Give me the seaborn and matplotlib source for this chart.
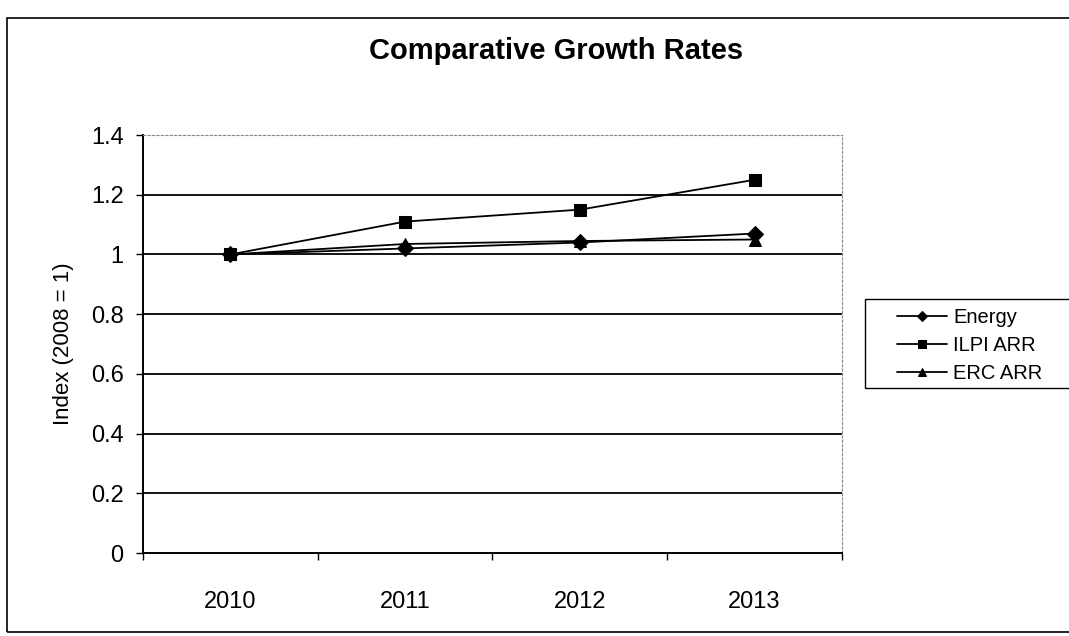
import matplotlib
matplotlib.use("Agg")
import matplotlib.pyplot as plt
import seaborn as sns
import pandas as pd
from matplotlib.patches import Rectangle

years = ["2010", "2011", "2012", "2013"]
energy = [1.00, 1.02, 1.04, 1.07]
ilpi_arr = [1.00, 1.11, 1.15, 1.25]
erc_arr = [1.00, 1.035, 1.045, 1.05]
series_names = ["Energy", "ILPI ARR", "ERC ARR"]
y_ticks = [0, 0.2, 0.4, 0.6, 0.8, 1, 1.2, 1.4]
y_tick_labels = ["0", "0.2", "0.4", "0.6", "0.8", "1", "1.2", "1.4"]

sns.set_style("white")
plt.rcParams['font.family'] = ['Liberation Sans', 'DejaVu Sans']
plt.rcParams['text.color'] = 'black'
plt.rcParams['xtick.color'] = 'black'
plt.rcParams['ytick.color'] = 'black'
plt.rcParams['axes.labelcolor'] = 'black'

rows = []
for name, vals in zip(series_names, [energy, ilpi_arr, erc_arr]):
    for i, v in enumerate(vals):
        rows.append({"pos": i, "year": years[i], "value": v, "series": name})
df = pd.DataFrame(rows)

W, H = 1069, 636
fig = plt.figure(figsize=(W / 100, H / 100), dpi=100)
ax = fig.add_axes([143 / W, 1 - 553 / H, (842 - 143) / W, (553 - 135) / H])

# outer chart frame (right side runs off the picture)
fig.patches.append(Rectangle((7 / W, 1 - 632 / H), 1.1, (632 - 18) / H,
                             transform=fig.transFigure, fill=False,
                             edgecolor="black", linewidth=1.2, clip_on=False))
# legend frame (right side runs off the picture)
fig.patches.append(Rectangle((865 / W, 1 - 388 / H), 0.3, (388 - 299) / H,
                             transform=fig.transFigure, fill=False,
                             edgecolor="black", linewidth=1.0, clip_on=False))

for t in y_ticks[1:-1]:
    ax.axhline(t, color="black", linewidth=1.3, zorder=1)

sns.lineplot(data=df, x="pos", y="value", hue="series", style="series",
             palette={n: "black" for n in series_names},
             markers={"Energy": "D", "ILPI ARR": "s", "ERC ARR": "^"},
             dashes=False, markersize=8, linewidth=1.3, ax=ax,
             markeredgecolor="black", legend=True, zorder=3)

ax.set_xlim(-0.5, 3.5)
ax.set_ylim(0, 1.4)
ax.set_yticks(y_ticks)
ax.set_yticklabels(y_tick_labels, fontsize=17)
ax.set_xticks(range(len(years)))
ax.set_xticklabels(years, fontsize=17)
ax.tick_params(axis="x", which="major", length=0, pad=27)
ax.tick_params(axis="y", length=5, direction="out", left=True, width=1, pad=9)
ax.set_xticks([-0.5, 0.5, 1.5, 2.5, 3.5], minor=True)
ax.tick_params(axis="x", which="minor", length=5, direction="out", bottom=True, width=1)
ax.set_xlabel("")
ax.set_ylabel("Index (2008 = 1)", fontsize=16, labelpad=12)

for side in ["left", "bottom"]:
    ax.spines[side].set_color("black")
    ax.spines[side].set_linewidth(1.4)
for side in ["top", "right"]:
    ax.spines[side].set_color("#888888")
    ax.spines[side].set_linewidth(0.8)
    ax.spines[side].set_linestyle((0, (2, 2)))

fig.text(556 / W, 1 - 51 / H, "Comparative Growth Rates", ha="center", va="center",
         fontsize=21, fontweight="bold")

leg = ax.legend(loc="upper left", bbox_to_anchor=(897 / W, 1 - 308 / H),
                bbox_transform=fig.transFigure, frameon=False,
                fontsize=14.5, handlelength=2.5, borderpad=0, borderaxespad=0,
                labelspacing=0.45, handletextpad=0.3, markerscale=0.7)

fig.savefig("out.png", dpi=100)
